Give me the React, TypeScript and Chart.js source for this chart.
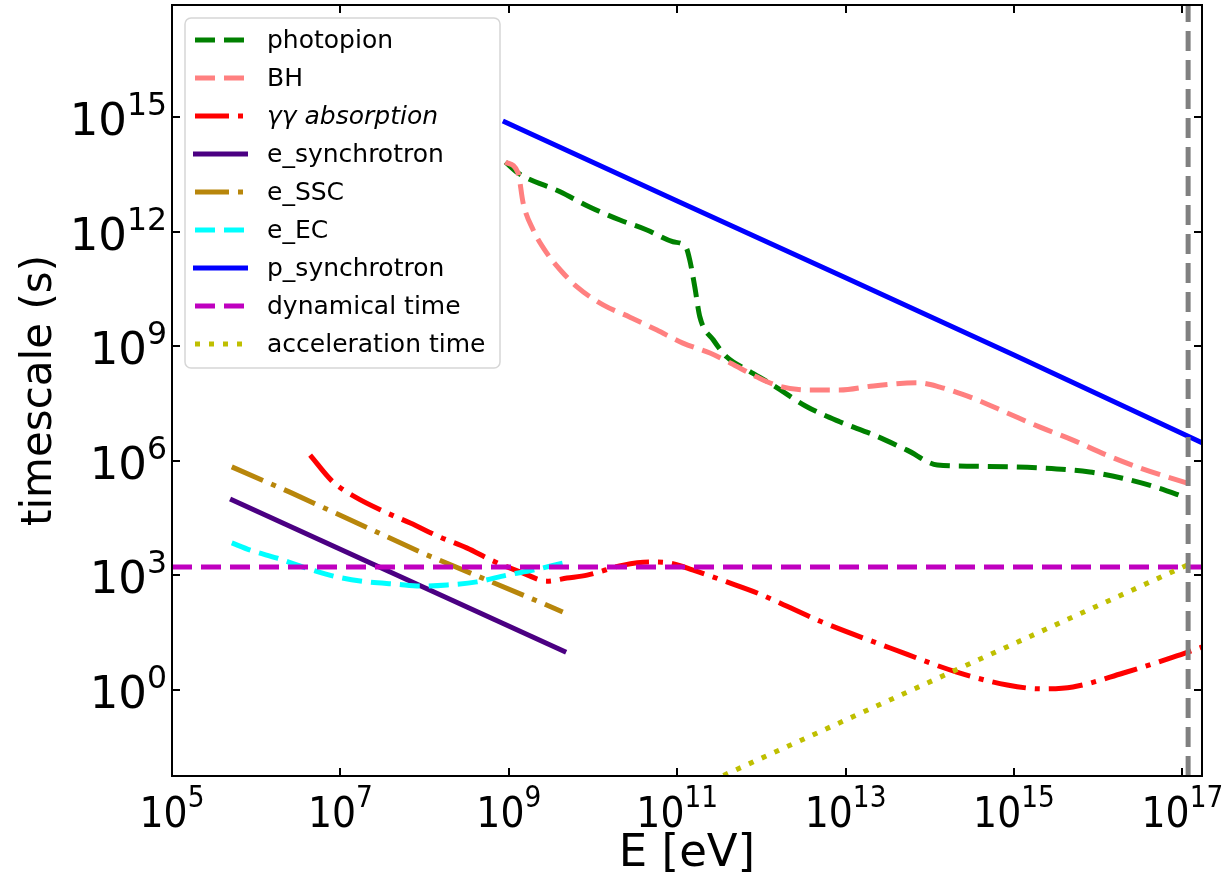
import React, { useEffect, useRef } from 'react';
import { Chart, registerables } from 'chart.js';
Chart.register(...registerables);

// ---------- data ----------
const photopionE = [9.12e8, 1.29e9, 4.07e9, 9.12e9, 2.09e10, 4.37e10, 8.91e10, 1.26e11, 1.41e11, 1.62e11, 1.86e11, 2.69e11, 3.89e11, 6.76e11, 1.38e12, 3.47e12, 8.51e12, 2.14e13, 5.37e13, 1.23e14, 3.24e14, 2.04e15, 7.94e15, 1.95e16, 5.01e16, 1.12e17];
const photopionT = [6.6e13, 3.4e13, 1.1e13, 4.4e12, 2.0e12, 1.1e12, 5.4e11, 4.0e11, 1.8e11, 3.5e10, 5.8e9, 1.45e9, 5.2e8, 2.4e8, 9.5e7, 2.6e7, 1.05e7, 4.8e6, 1.9e6, 7.8e5, 7.2e5, 6.5e5, 5.1e5, 3.5e5, 2.0e5, 1.07e5];

const bhE = [9.12e8, 1.29e9, 1.48e9, 1.95e9, 2.82e9, 4.07e9, 6.46e9, 1.32e10, 2.75e10, 5.75e10, 1.17e11, 2.45e11, 4.27e11, 8.91e11, 1.55e12, 3.47e12, 8.51e12, 2.14e13, 7.08e13, 1.32e14, 3.24e14, 8.32e14, 2.04e15, 5.01e15, 1.26e16, 3.16e16, 1.12e17];
const bhT = [6.6e13, 3.4e13, 5.6e12, 1.1e12, 2.75e11, 1.0e11, 3.55e10, 1.2e10, 5.75e9, 2.63e9, 1.2e9, 6.6e8, 3.63e8, 1.55e8, 9.3e7, 7.1e7, 7.1e7, 9.1e7, 1.1e8, 8.5e7, 4.37e7, 1.78e7, 7.6e6, 3.47e6, 1.41e6, 6.46e5, 2.63e5];

const ggE = [4.37e6, 8.13e6, 1.51e7, 3.39e7, 6.76e7, 1.51e8, 3.16e8, 6.46e8, 1.48e9, 2.82e9, 4.9e9, 8.51e9, 2.29e10, 4.79e10, 8.32e10, 1.55e11, 3.89e11, 8.91e11, 5.01e12, 3.39e13, 2.09e14, 8.32e14, 2.19e15, 5.01e15, 1.95e16, 7.76e16, 1.78e17];
const ggT = [1.41e6, 2.82e5, 1.12e5, 4.57e4, 2.34e4, 1.02e4, 5.25e3, 2.4e3, 1.15e3, 708, 851, 1.02e3, 1.86e3, 2.24e3, 2.09e3, 1.38e3, 676, 347, 63, 12.6, 2.95, 1.35, 1.07, 1.2, 2.75, 7.24, 13.8];

const eSynE = [4.9e5, 4.8e9];
const eSynT = [1.0e5, 9.8];

const eSscE = [5.13e5, 2.51e6, 9.55e7, 2.34e9, 4.37e9];
const eSscT = [6.92e5, 1.51e5, 3.8e3, 200, 110];

const eEcE = [5.13e5, 8.51e5, 1.78e6, 3.98e6, 9.12e6, 2.09e7, 4.68e7, 8.91e7, 1.86e8, 4.17e8, 9.55e8, 1.95e9, 4.37e9];
const eEcT = [7.08e3, 4.57e3, 2.82e3, 1.55e3, 912, 676, 589, 525, 562, 676, 1.02e3, 1.38e3, 2.09e3];

const pSynE = [8.5e8, 1e11, 1e13, 1e15, 1.71e17];
const pSynT = [7.8e14, 6.3e12, 6.2e10, 5.9e8, 2.95e6];

const dynE = [1e5, 1.71e17];
const dynT = [1.66e3, 1.66e3];

const accE = [2.5e11, 1.29e17];
const accT = [4.1e-3, 2.1e3];

const maxEnergyLine = 1.17e17;

const X_MIN = 1e5;
const X_MAX = 1.71e17;
const Y_MIN = 5.62e-3;
const Y_MAX = 8.5e17;

const xTickValues = [1e5, 1e7, 1e9, 1e11, 1e13, 1e15, 1e17];
const xTickExps = ['5', '7', '9', '11', '13', '15', '17'];
const yTickValues = [1, 1e3, 1e6, 1e9, 1e12, 1e15];
const yTickExps = ['0', '3', '6', '9', '12', '15'];

const FONT = '"DejaVu Sans", sans-serif';

function pts(xs: number[], ys: number[]) {
  return xs.map((x, i) => ({ x, y: ys[i] }));
}

const DASHED = [20, 9];
const DASHDOT = [34, 9, 5, 9];
const DOTTED = [5, 9];

function drawPow(ctx: CanvasRenderingContext2D, exp: string, x: number, baseline: number, align: 'right' | 'center', F: number, SF: number, raise: number, sx: number) {
  ctx.save();
  ctx.font = `${F}px ${FONT}`;
  const wb = ctx.measureText('10').width;
  ctx.font = `${SF}px ${FONT}`;
  const we = ctx.measureText(exp).width;
  const total = (wb + we) * sx;
  const startX = align === 'right' ? x - total : x - total / 2;
  ctx.translate(startX, baseline);
  ctx.scale(sx, 1);
  ctx.textAlign = 'left';
  ctx.textBaseline = 'alphabetic';
  ctx.fillStyle = '#000';
  ctx.font = `${F}px ${FONT}`;
  ctx.fillText('10', 0, 0);
  ctx.font = `${SF}px ${FONT}`;
  ctx.fillText(exp, wb, -raise);
  ctx.restore();
}

const axesPlugin = {
  id: 'mplAxes',
  afterDatasetsDraw(chart: any) {
    const ctx: CanvasRenderingContext2D = chart.ctx;
    const a = chart.chartArea;
    const xs = chart.scales.x;
    const ys = chart.scales.y;
    ctx.save();
    // legend
    const bx = 185, by = 18, bw = 315, bh = 350, r = 6;
    ctx.beginPath();
    ctx.moveTo(bx + r, by);
    ctx.arcTo(bx + bw, by, bx + bw, by + bh, r);
    ctx.arcTo(bx + bw, by + bh, bx, by + bh, r);
    ctx.arcTo(bx, by + bh, bx, by, r);
    ctx.arcTo(bx, by, bx + bw, by, r);
    ctx.closePath();
    ctx.fillStyle = 'rgba(255,255,255,0.8)';
    ctx.fill();
    ctx.strokeStyle = 'rgba(204,204,204,0.8)';
    ctx.lineWidth = 1.5;
    ctx.stroke();
    let idx = 0;
    chart.data.datasets.forEach((ds: any) => {
      if (ds.label === '') return;
      const y = 40 + idx * 38;
      idx++;
      ctx.save();
      ctx.beginPath();
      ctx.setLineDash(ds.borderDash || []);
      ctx.lineCap = 'butt';
      ctx.strokeStyle = ds.borderColor;
      ctx.lineWidth = ds.borderWidth;
      const solid = !ds.borderDash || ds.borderDash.length === 0;
      ctx.moveTo(solid ? 193 : 195, y);
      ctx.lineTo(248, y);
      ctx.stroke();
      ctx.restore();
      ctx.fillStyle = '#000';
      ctx.textBaseline = 'middle';
      ctx.textAlign = 'left';
      ctx.font = (ds.label.indexOf('γ') >= 0 ? 'italic ' : '') + `25px ${FONT}`;
      ctx.fillText(ds.label, 267, y + 1);
    });

    // frame
    ctx.setLineDash([]);
    ctx.strokeStyle = '#000';
    ctx.lineWidth = 2;
    ctx.strokeRect(a.left, a.top, a.right - a.left, a.bottom - a.top);
    // ticks
    const TL = 8;
    ctx.beginPath();
    xTickValues.forEach((v) => {
      const px = Math.round(xs.getPixelForValue(v));
      ctx.moveTo(px, a.bottom);
      ctx.lineTo(px, a.bottom - TL);
      ctx.moveTo(px, a.top);
      ctx.lineTo(px, a.top + TL);
    });
    yTickValues.forEach((v) => {
      const py = Math.round(ys.getPixelForValue(v));
      ctx.moveTo(a.left, py);
      ctx.lineTo(a.left + TL, py);
      ctx.moveTo(a.right, py);
      ctx.lineTo(a.right - TL, py);
    });
    ctx.stroke();
    // tick labels
    xTickValues.forEach((v, i) => {
      const px = xs.getPixelForValue(v);
      drawPow(ctx, xTickExps[i], px, 827, 'center', 43, 30, 20, 0.88);
    });
    yTickValues.forEach((v, i) => {
      const py = ys.getPixelForValue(v);
      drawPow(ctx, yTickExps[i], 167, py + 18, 'right', 45, 31.5, 20, 1);
    });
    // axis titles
    ctx.fillStyle = '#000';
    ctx.textAlign = 'center';
    ctx.textBaseline = 'alphabetic';
    ctx.font = `45px ${FONT}`;
    ctx.fillText('E [eV]', (a.left + a.right) / 2, 866);
    ctx.save();
    ctx.font = `42px ${FONT}`;
    ctx.translate(51, (a.top + a.bottom) / 2);
    ctx.rotate(-Math.PI / 2);
    ctx.fillText('timescale (s)', 0, 0);
    ctx.restore();
    ctx.restore();
  },
};

export default function App() {
  const ref = useRef<HTMLCanvasElement | null>(null);
  useEffect(() => {
    document.body.style.margin = '0';
    const canvas = ref.current!;
    const mk = (label: string, xs: number[], ys: number[], color: string, dash: number[], mono: boolean, order: number) => ({
      label,
      data: pts(xs, ys),
      borderColor: color,
      backgroundColor: color,
      borderWidth: 5,
      borderDash: dash,
      borderCapStyle: 'butt' as const,
      borderJoinStyle: 'round' as const,
      pointRadius: 0,
      pointHoverRadius: 0,
      fill: false,
      cubicInterpolationMode: mono ? ('monotone' as const) : ('default' as const),
      tension: 0,
      clip: 0,
      order,
    });
    const datasets = [
      mk('photopion', photopionE, photopionT, '#008000', DASHED, true, 10),
      mk('BH', bhE, bhT, '#ff8080', DASHED, true, 9),
      mk('γγ absorption', ggE, ggT, '#ff0000', DASHDOT, true, 8),
      mk('e_synchrotron', eSynE, eSynT, '#4b0082', [], false, 7),
      mk('e_SSC', eSscE, eSscT, '#b8860b', DASHDOT, false, 6),
      mk('e_EC', eEcE, eEcT, '#00ffff', DASHED, true, 5),
      mk('p_synchrotron', pSynE, pSynT, '#0000ff', [], false, 4),
      mk('dynamical time', dynE, dynT, '#bf00bf', DASHED, false, 3),
      mk('acceleration time', accE, accT, '#bfbf00', DOTTED, false, 2),
      mk('', [maxEnergyLine, maxEnergyLine], [Y_MIN, Y_MAX], '#808080', DASHED, false, 1),
    ];
    const chart = new Chart(canvas, {
      type: 'line',
      data: { datasets: datasets as any },
      options: {
        animation: false,
        responsive: false,
        devicePixelRatio: 1,
        events: [],
        layout: { padding: { left: 172, top: 5, right: 24, bottom: 101 } },
        plugins: { legend: { display: false }, tooltip: { enabled: false }, title: { display: false } },
        scales: {
          x: { type: 'logarithmic', min: X_MIN, max: X_MAX, display: false },
          y: { type: 'logarithmic', min: Y_MIN, max: Y_MAX, display: false },
        },
      },
      plugins: [axesPlugin],
    });
    return () => chart.destroy();
  }, []);
  return (
    <div style={{ width: 1226, height: 877, background: '#fff' }}>
      <canvas ref={ref} width={1226} height={877} style={{ display: 'block' }} />
    </div>
  );
}
